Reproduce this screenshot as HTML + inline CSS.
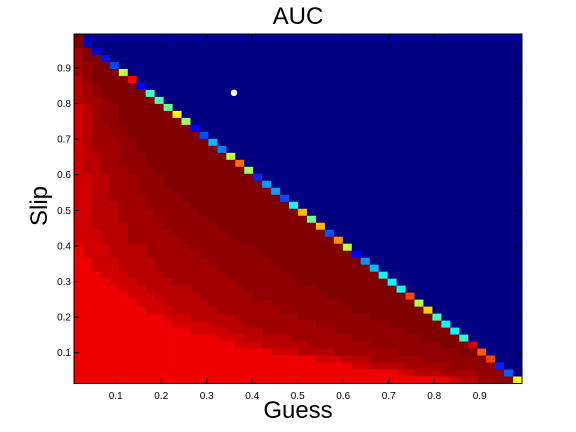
<!DOCTYPE html>
<html><head><meta charset="utf-8"><style>
html,body{margin:0;padding:0;background:#fff;}
svg{display:block;font-family:"Liberation Sans",sans-serif;}
</style></head><body>
<svg id="chart" width="576" height="432" viewBox="0 0 576 432" xmlns="http://www.w3.org/2000/svg">
<rect x="0" y="0" width="576" height="432" fill="#fff"/>
<g id="cells"></g>
<circle id="dot" r="3.2" fill="#fff"/>
<rect x="74" y="34" width="448" height="349.5" fill="none" stroke="#000" stroke-width="1"/>
<g id="ticks"></g>
<text x="298" y="24" font-size="24" text-anchor="middle">AUC</text>
<text x="298" y="418" font-size="24" text-anchor="middle">Guess</text>
<text transform="translate(47,206) rotate(-90)" font-size="24" text-anchor="middle">Slip</text>
</svg>
<script>
// Row index 0 = top row (slip 0.99); column index 0 = guess 0.01. Diagonal cell of row i is column i.
const diagValues = [1.0,0.06,0.08,0.14,0.19,0.56,0.875,0.125,0.44,0.45,0.47,0.625,0.53,0.125,0.2,0.31,0.25,0.56,0.77,0.53,0.16,0.28,0.28,0.2,0.375,0.69,0.48,0.69,0.21,0.73,0.56,0.125,0.27,0.31,0.375,0.375,0.375,0.81,0.55,0.67,0.44,0.375,0.375,0.42,0.92,0.79,0.81,0.16,0.22,0.625];
// Band boundaries (column where each band ends) per row, from top row to bottom row
const brightEnd = [0,0,0,0,0,0,0,0,0,0,0,0,0,0,0,0,0,0,0,0,0,0,0,0,0,0,0,0,0,0,1,1,2,2,3,4,5,6,7,8,10,11,13,16,18,22,27,31,36,42];
const band1End  = [0,0,0,0,0,0,0,0,0,0,1,1,1,1,1,1,1,1,1,1,2,2,2,2,2,2,2,2,3,3,4,4,5,5,6,7,8,9,10,11,13,15,17,19,21,25,30,33,38,43];
const band2End  = [0,0,0,0,0,0,1,1,1,1,2,2,2,2,2,2,2,3,3,3,4,4,4,4,5,5,5,6,6,6,8,8,9,9,10,11,13,14,15,16,18,19,21,24,26,29,33,37,41,45];
const band3End  = [0,0,1,1,1,1,1,2,2,3,3,3,3,4,4,5,5,5,5,6,7,7,7,8,8,9,10,10,11,12,13,14,15,16,17,18,19,20,22,23,25,27,29,31,33,36,39,42,45,47];
const darkStart = [0,0,1,1,2,2,2,3,3,4,5,5,5,6,6,7,7,8,8,9,10,10,11,12,13,14,15,16,17,18,20,21,22,23,24,25,27,28,30,31,33,35,37,39,41,43,45,47,48,49];
// AUC levels of each band: bright, band1, band2, band3, band4, darkest
const bandLevels = [0.892,0.921,0.945,0.968,0.984,1.0];
const upperLevel = [0.03,0.0];
const xTicks = [0.1,0.2,0.3,0.4,0.5,0.6,0.7,0.8,0.9];
const yTicks = [0.1,0.2,0.3,0.4,0.5,0.6,0.7,0.8,0.9];
const markerPoint = [0.36,0.83];

const NS="http://www.w3.org/2000/svg";
const N=50, X0=74, X1=522, Y0=34, Y1=383.5;
const cw=(X1-X0)/N, ch=(Y1-Y0)/N;
function xScale(v){return 70.2+455*v;}
function yScale(v){return 388.3-356*v;}
function jet(v){
  v=Math.max(0,Math.min(1,v));
  const f=(a)=>Math.max(0,Math.min(1,a));
  const r=f(Math.min(4*v-1.5,-4*v+4.5)), g=f(Math.min(4*v-0.5,-4*v+3.5)), b=f(Math.min(4*v+0.5,-4*v+2.5));
  return "rgb("+Math.round(r*255)+","+Math.round(g*255)+","+Math.round(b*255)+")";
}
function valueAt(i,j){
  if(j===i) return diagValues[i];
  if(j>i) return i===0?upperLevel[0]:upperLevel[1];
  if(j<brightEnd[i]) return bandLevels[0];
  if(j<band1End[i]) return bandLevels[1];
  if(j<band2End[i]) return bandLevels[2];
  if(j<band3End[i]) return bandLevels[3];
  if(j<darkStart[i]) return bandLevels[4];
  return bandLevels[5];
}
const cells=document.getElementById('cells');
for(let i=0;i<N;i++){
  for(let j=0;j<N;j++){
    const r=document.createElementNS(NS,'rect');
    r.setAttribute('x',(X0+j*cw).toFixed(2));
    r.setAttribute('y',(Y0+i*ch).toFixed(2));
    r.setAttribute('width',(cw+0.4).toFixed(2));
    r.setAttribute('height',(ch+0.4).toFixed(2));
    r.setAttribute('fill',jet(valueAt(i,j)));
    
    
    cells.appendChild(r);
  }
}
const dot=document.getElementById('dot');
dot.setAttribute('cx',xScale(markerPoint[0]));
dot.setAttribute('cy',yScale(markerPoint[1]));
const tk=document.getElementById('ticks');
function line(x1,y1,x2,y2){
  const l=document.createElementNS(NS,'line');
  l.setAttribute('x1',x1);l.setAttribute('y1',y1);l.setAttribute('x2',x2);l.setAttribute('y2',y2);
  l.setAttribute('stroke','#000');l.setAttribute('stroke-width','1');
  
  
  tk.appendChild(l);
}
xTicks.forEach(v=>{
  const x=xScale(v);
  line(x,Y1,x,Y1-5); line(x,Y0,x,Y0+5);
  const t=document.createElementNS(NS,'text');
  t.setAttribute('x',x);t.setAttribute('y',399);t.setAttribute('font-size','10');t.setAttribute('text-anchor','middle');
  t.textContent=v.toFixed(1);
  
  
  tk.appendChild(t);
});
yTicks.forEach(v=>{
  const y=yScale(v);
  line(X0,y,X0+5,y); line(X1,y,X1-5,y);
  const t=document.createElementNS(NS,'text');
  t.setAttribute('x',71);t.setAttribute('y',y+3.5);t.setAttribute('font-size','10');t.setAttribute('text-anchor','end');
  t.textContent=v.toFixed(1);
  
  
  tk.appendChild(t);
});
</script>
</body></html>
